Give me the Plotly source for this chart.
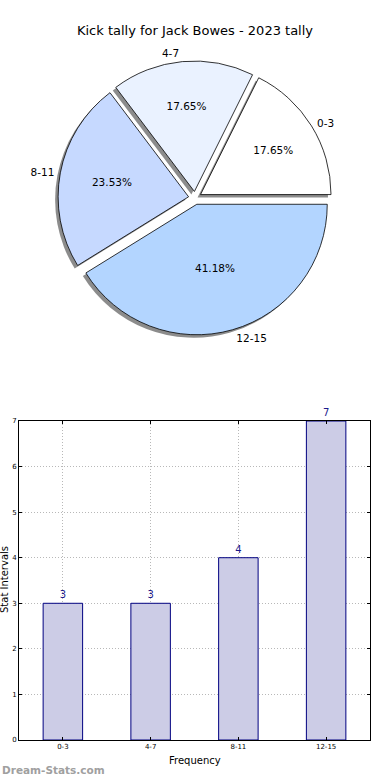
import plotly.graph_objects as go

categories = ["0-3", "4-7", "8-11", "12-15"]
counts = [3, 3, 4, 7]
slice_colors = ["#ffffff", "#eaf2ff", "#c6d9ff", "#b3d5ff"]
y_ticks = [0, 1, 2, 3, 4, 5, 6, 7]

W, H = 390, 780
FONT = "DejaVu Sans"

# pie geometry (pixels)
cx, cy, half = 195, 198, 137
pull = [0.05] * len(categories)
# first slice starts at 3 o'clock and runs counterclockwise (matplotlib default)
rot = 90 - 360 * counts[0] / sum(counts)


def dom(cx_, cy_, h):
    return dict(x=[(cx_ - h) / W, (cx_ + h) / W], y=[1 - (cy_ + h) / H, 1 - (cy_ - h) / H])


fig = go.Figure()

# shadow
fig.add_trace(go.Pie(
    labels=categories, values=counts, sort=False, direction="counterclockwise",
    rotation=rot, pull=pull, domain=dom(cx - 3, cy + 3, half),
    marker=dict(colors=["rgba(0,0,0,0.45)"] * 4, line=dict(width=0)),
    textinfo="none", hoverinfo="skip", showlegend=False,
))
# main pie
fig.add_trace(go.Pie(
    labels=categories, values=counts, sort=False, direction="counterclockwise",
    rotation=rot, pull=pull, domain=dom(cx, cy, half),
    marker=dict(colors=slice_colors, line=dict(color="#000000", width=0.8)),
    texttemplate="%{percent:.2%}", textposition="inside",
    insidetextorientation="horizontal",
    textfont=dict(family=FONT, size=10.5, color="#000000"),
    showlegend=False,
))
# outer labels
fig.add_trace(go.Pie(
    labels=categories, values=counts, sort=False, direction="counterclockwise",
    rotation=rot, pull=pull, domain=dom(cx, cy, half + 3),
    marker=dict(colors=["rgba(0,0,0,0)"] * 4, line=dict(width=0)),
    textinfo="label", textposition="outside",
    textfont=dict(family=FONT, size=10.5, color="#000000"),
    hoverinfo="skip", showlegend=False,
))

# bar chart
fig.add_trace(go.Bar(
    x=categories, y=counts, width=0.45,
    marker=dict(color="#ccccE6", line=dict(color="#000080", width=1)),
    text=[str(v) for v in counts], textposition="outside",
    textfont=dict(family=FONT, size=10, color="#1a1a8c"),
    cliponaxis=False, showlegend=False, xaxis="x", yaxis="y",
))

ax_l, ax_r, ax_t, ax_b = 19, 370, 421, 740

axis_common = dict(
    showline=True, linecolor="#000000", linewidth=1, mirror="ticks",
    showgrid=True, gridcolor="#b8b8b8", griddash="1px,2px", gridwidth=1,
    ticks="inside", ticklen=3, tickcolor="#000000",
    tickfont=dict(family=FONT, size=7, color="#000000"),
    zeroline=False, automargin=False,
)

fig.update_layout(
    width=W, height=H,
    margin=dict(l=0, r=0, t=0, b=0),
    paper_bgcolor="white", plot_bgcolor="white",
    font=dict(family=FONT, color="#000000"),
    title=dict(text="Kick tally for Jack Bowes - 2023 tally", x=0.5, xanchor="center",
               y=1 - 30 / H, yanchor="middle", font=dict(family=FONT, size=13, color="#000000")),
    xaxis=dict(domain=[ax_l / W, ax_r / W], range=[-0.5, 3.5], **axis_common),
    yaxis=dict(domain=[1 - ax_b / H, 1 - ax_t / H], range=[0, 7], tickvals=y_ticks, **axis_common),
    annotations=[
        dict(text="Frequency", x=(ax_l + ax_r) / 2 / W, y=1 - 760 / H, xref="paper", yref="paper",
             showarrow=False, font=dict(family=FONT, size=10, color="#000000"),
             xanchor="center", yanchor="middle"),
        dict(text="Stat Intervals", x=4 / W, y=1 - 580 / H, xref="paper", yref="paper",
             showarrow=False, textangle=-90, font=dict(family=FONT, size=10, color="#000000"),
             xanchor="center", yanchor="middle"),
        dict(text="<b>Dream-Stats.com</b>", x=0, y=1 - 770 / H, xref="paper", yref="paper",
             showarrow=False, font=dict(family=FONT, size=10.5, color="#a0a0a0"),
             xanchor="left", yanchor="middle"),
    ],
)

fig.write_html("out.html", config={"displayModeBar": False},
               post_script="document.body.style.margin='0';")
